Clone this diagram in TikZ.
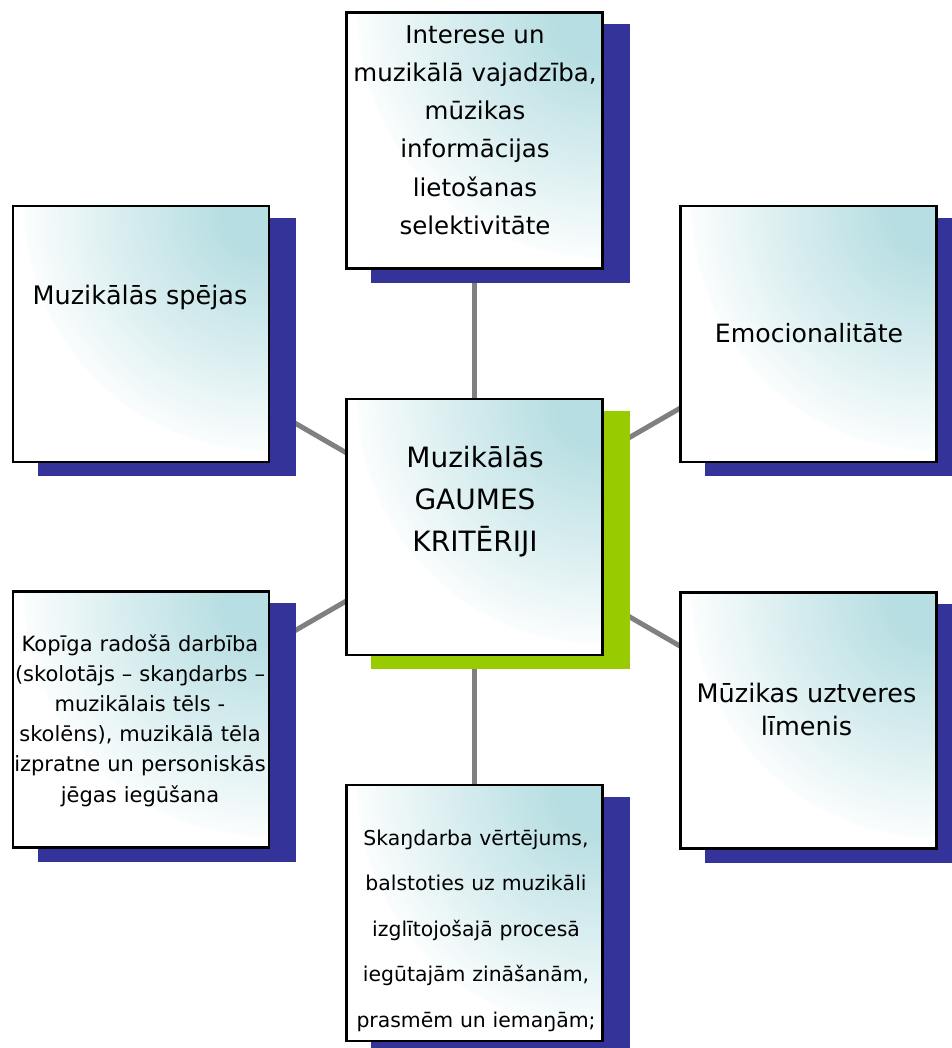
\documentclass[tikz,border=0pt]{standalone}
\usepackage{fontspec}
\setmainfont{DejaVu Sans}
\pgfdeclarelayer{links}
\pgfdeclarelayer{shadows}
\pgfsetlayers{links,shadows,main}
\definecolor{glow}{RGB}{183,222,226}
\definecolor{navyshadow}{RGB}{51,51,153}
\definecolor{limeshadow}{RGB}{153,204,0}
\definecolor{linkgray}{RGB}{128,128,128}
% soft teal glow from the upper right corner of each box
% (the path's bounding box covers the inner 50bp of the shading)
\pgfdeclareradialshading{boxglow}{\pgfpoint{0bp}{0bp}}{color(0bp)=(glow); color(4bp)=(glow); color(14bp)=(glow!55!white); color(25bp)=(white); color(50bp)=(white)}
\tikzset{
  crit/.style={draw=black, line width=2.4pt, minimum width=256pt, minimum height=256pt,
    inner sep=0pt, outer sep=0pt, fill=white,
    path picture={\fill[shading=boxglow] (path picture bounding box.north east) circle (245pt);}},
  crittext/.style={anchor=base, inner sep=0pt, text width=300pt, align=center},
  link/.style={draw=linkgray, line width=5pt},
}
\newcommand\dropshadow[2]{%
  \fill[#2] ([shift={(24.8pt,-11.8pt)}]#1.north west) rectangle ([shift={(27.2pt,-14.2pt)}]#1.south east);}
\begin{document}
\begin{tikzpicture}[x=1pt, y=-1pt]
\useasboundingbox (0,0) rectangle (951,1048);
% boxes
\node[crit] (top) at (474.5,140.5) {};
\node[crit] (lt)  at (141,334) {};
\node[crit] (rt)  at (808.5,334) {};
\node[crit] (ctr) at (474.5,527) {};
\node[crit] (lb)  at (141,719.5) {};
\node[crit] (rb)  at (808.5,720.5) {};
\node[crit] (bt)  at (474.5,913) {};
% shadows
\begin{pgfonlayer}{shadows}
  \dropshadow{top}{navyshadow}
  \dropshadow{lt}{navyshadow}
  \dropshadow{rt}{navyshadow}
  \dropshadow{ctr}{limeshadow}
  \dropshadow{lb}{navyshadow}
  \dropshadow{rb}{navyshadow}
  \dropshadow{bt}{navyshadow}
\end{pgfonlayer}
% connectors from the central box
\begin{pgfonlayer}{links}
  \draw[link] (ctr.center) -- (top.center);
  \draw[link] (ctr.center) -- (lt.center);
  \draw[link] (ctr.center) -- (rt.center);
  \draw[link] (ctr.center) -- (lb.center);
  \draw[link] (ctr.center) -- (rb.center);
  \draw[link] (ctr.center) -- (bt.center);
\end{pgfonlayer}
% texts
\node[crittext, font=\fontsize{24.5pt}{38.2pt}\selectfont] (toptext) at (475,43.3)
  {Interese un\\ muzikālā vajadzība,\\ mūzikas\\ informācijas\\ lietošanas\\ selektivitāte};
\node[crittext, font=\fontsize{25.5pt}{30pt}\selectfont] (lttext) at (140,305) {Muzikālās spējas};
\node[crittext, font=\fontsize{25.2pt}{30pt}\selectfont] (rttext) at (809,342) {Emocionalitāte};
\node[crittext, font=\fontsize{28pt}{42pt}\selectfont] (ctrtext) at (475,467)
  {Muzikālās\\ GAUMES\\ KRITĒRIJI};
\node[crittext, font=\fontsize{21pt}{30.2pt}\selectfont] (lbtext) at (140,651)
  {Kopīga radošā darbība\\ (skolotājs – skaŋdarbs –\\ muzikālais tēls -\\ skolēns), muzikālā tēla\\ izpratne un personiskās\\ jēgas iegūšana};
\node[crittext, font=\fontsize{25.5pt}{33pt}\selectfont] (rbtext) at (806.5,702)
  {Mūzikas uztveres\\ līmenis};
\node[crittext, font=\fontsize{20.4pt}{45.5pt}\selectfont] (bttext) at (476,845)
  {Skaŋdarba vērtējums,\\ balstoties uz muzikāli\\ izglītojošajā procesā\\ iegūtajām zināšanām,\\ prasmēm un iemaŋām;};
\end{tikzpicture}
\end{document}
